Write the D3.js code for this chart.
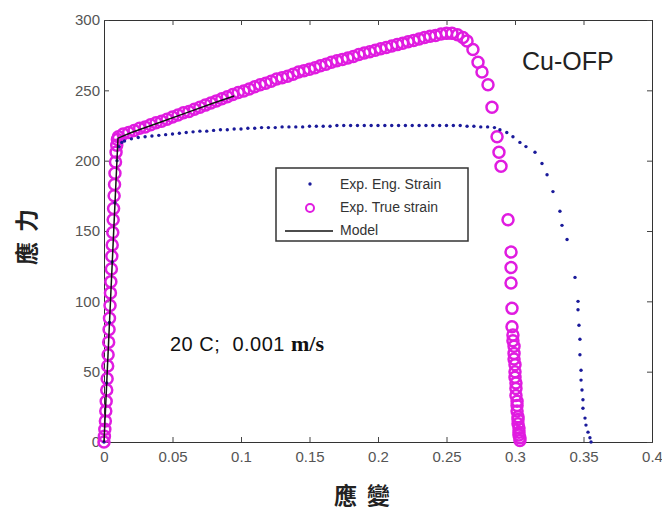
<!DOCTYPE html>
<html>
<head>
<meta charset="utf-8">
<script src="https://cdn.jsdelivr.net/npm/d3@7"></script>
<style>
  body { margin: 0; background: #fff; }
  svg { display: block; }
</style>
</head>
<body>
<svg id="chart"></svg>
<script>
// engineering strain curve (blue dots)
const engStrain = [0, 0.002, 0.004, 0.006, 0.008, 0.0095, 0.011, 0.013,
  0.015, 0.02, 0.025, 0.03, 0.035, 0.04, 0.045, 0.05, 0.055, 0.06, 0.065, 0.07,
  0.075, 0.08, 0.085, 0.09, 0.095, 0.1, 0.105, 0.11, 0.115, 0.12, 0.125, 0.13,
  0.135, 0.14, 0.145, 0.15, 0.155, 0.16, 0.165, 0.17, 0.175, 0.18, 0.185, 0.19,
  0.195, 0.2, 0.205, 0.21, 0.215, 0.22, 0.225, 0.23, 0.235, 0.24, 0.245, 0.25,
  0.255, 0.26, 0.265, 0.27, 0.275, 0.28, 0.285, 0.289, 0.294, 0.2985, 0.3036,
  0.308, 0.3146, 0.3197, 0.3234, 0.3277, 0.3328, 0.3343, 0.338, 0.3438, 0.346,
  0.346, 0.3467, 0.3474, 0.3474, 0.3482, 0.3482, 0.3489, 0.3496, 0.3496,
  0.3511, 0.3518, 0.3533, 0.3547, 0.3555];
const engStress = [0, 42, 85, 128, 170, 200, 210, 213,
  214, 215.5, 216.5, 217, 217.5, 218, 218.5, 219, 219.5, 220, 220.5, 221,
  221, 221.5, 222, 222, 222.5, 222.5, 223, 223, 223.5, 223.5, 223.5, 224,
  224, 224, 224, 224.5, 224.5, 224.5, 224.5, 225, 225, 225, 225, 225,
  225, 225, 225, 225, 225, 225, 225, 225, 225, 225, 225, 225,
  225, 225, 224.5, 224.5, 224, 224, 223.5, 222, 220, 217, 213,
  210, 206, 198, 190, 178, 164, 154, 144, 117, 100,
  94, 83, 73, 62, 51, 44, 37, 30, 24,
  17, 12, 7, 3, 0];

// true strain curve (open circles)
const trueStrain = [0, 0.0003, 0.0006, 0.001, 0.0013, 0.0016, 0.002, 0.0023,
  0.0027, 0.003, 0.0034, 0.0037, 0.004, 0.0044, 0.0047, 0.005, 0.0054, 0.0057,
  0.006, 0.0064, 0.0067, 0.007, 0.0074, 0.0077, 0.008, 0.0084, 0.0088, 0.0093,
  0.0098, 0.0105, 0.014, 0.018, 0.022, 0.026, 0.03, 0.034, 0.038, 0.042, 0.046,
  0.05, 0.054, 0.058, 0.062, 0.066, 0.07, 0.074, 0.078, 0.082, 0.086, 0.09,
  0.094, 0.098, 0.102, 0.106, 0.11, 0.114, 0.118, 0.122, 0.126, 0.13, 0.134,
  0.138, 0.142, 0.146, 0.15, 0.154, 0.158, 0.162, 0.166, 0.17, 0.174, 0.178,
  0.182, 0.186, 0.19, 0.194, 0.198, 0.202, 0.206, 0.21, 0.214, 0.218, 0.222,
  0.226, 0.23, 0.234, 0.238, 0.242, 0.246, 0.25, 0.254, 0.258, 0.262, 0.265,
  0.2693, 0.273, 0.2759, 0.2803, 0.2832, 0.2869, 0.2883, 0.2898, 0.2949,
  0.2971, 0.2971, 0.2971, 0.2978, 0.2978, 0.2985, 0.2985, 0.2993, 0.2993,
  0.2993, 0.3, 0.3, 0.3, 0.3007, 0.3007, 0.3007, 0.3015, 0.3015, 0.3015,
  0.3022, 0.3022, 0.3022, 0.3029, 0.3029, 0.3029, 0.3036, 0.3036];
const trueStress = [0, 4, 9, 15, 22, 29, 37, 45,
  54, 62, 71, 80, 88, 97, 106, 114, 123, 132,
  140, 149, 158, 166, 175, 183, 191, 199, 206, 211,
  215, 217, 219, 220, 221.5, 223, 224, 225.5, 227, 228, 229.5,
  231, 232.5, 234, 235, 236.5, 238, 239.5, 241, 242.5, 244, 245.5,
  247, 248.5, 249.5, 251, 252.5, 254, 255, 256.5, 258, 259, 260,
  261.5, 263, 264, 265, 266, 267.5, 268.5, 270, 271, 272, 273,
  274, 275.5, 276.5, 277.5, 278.5, 279.5, 280.5, 281.5, 282.5, 283.5, 284.5,
  285.5, 286.5, 287.5, 288.5, 289, 290, 290.5, 290.5, 289.5, 287.5, 285,
  279, 270, 263, 254, 238, 217, 206, 196, 158,
  135, 124, 113, 95, 82, 76, 72, 68, 63,
  59, 55, 50, 46, 42, 38, 33, 29, 26,
  22, 18, 16, 13, 10, 7, 5, 3, 1];

// model curve
const modelStrain = [0, 0.0102, 0.02, 0.04, 0.06, 0.08, 0.095];
const modelStress = [0, 216, 220, 227, 234, 241, 246];

const xTicks = [0, 0.05, 0.1, 0.15, 0.2, 0.25, 0.3, 0.35, 0.4];
const yTicks = [0, 50, 100, 150, 200, 250, 300];
const legendLabels = ["Exp. Eng. Strain", "Exp. True strain", "Model"];

const width = 662;
const height = 511;
const margin = { top: 20, right: 10, bottom: 69, left: 104 };
const magenta = "#e01ce0";
const blue = "#1a1a9a";

const svg = d3.select("#chart").attr("width", width).attr("height", height);

const x = d3.scaleLinear().domain([0, 0.4]).range([margin.left, width - margin.right]);
const y = d3.scaleLinear().domain([0, 300]).range([height - margin.bottom, margin.top]);

// axes, MATLAB style ticks pointing inward on all four sides
const fmt = d3.format("~g");
const tickFont = (g) => g.selectAll("text")
  .attr("font-family", "Liberation Sans, Arial, sans-serif")
  .attr("font-size", 15)
  .attr("fill", "#555");

svg.append("g")
  .attr("transform", `translate(0,${y(0)})`)
  .call(d3.axisBottom(x).tickValues(xTicks).tickFormat(fmt).tickSize(-5).tickPadding(9))
  .call(tickFont);
svg.append("g")
  .attr("transform", `translate(0,${y(300)})`)
  .call(d3.axisTop(x).tickValues(xTicks).tickFormat("").tickSize(-5));
svg.append("g")
  .attr("transform", `translate(${x(0)},0)`)
  .call(d3.axisLeft(y).tickValues(yTicks).tickFormat(fmt).tickSize(-5).tickPadding(4))
  .call(tickFont);
svg.append("g")
  .attr("transform", `translate(${x(0.4)},0)`)
  .call(d3.axisRight(y).tickValues(yTicks).tickFormat("").tickSize(-5));
svg.selectAll(".domain").attr("stroke", "#333");
svg.selectAll(".tick line").attr("stroke", "#444");

// true strain circles
svg.append("g")
  .selectAll("circle")
  .data(d3.zip(trueStrain, trueStress))
  .join("circle")
  .attr("cx", (d) => x(d[0]))
  .attr("cy", (d) => y(d[1]))
  .attr("r", 5.5)
  .attr("fill", "none")
  .attr("stroke", magenta)
  .attr("stroke-width", 2.5);

// engineering strain dots
svg.append("g")
  .selectAll("circle")
  .data(d3.zip(engStrain, engStress))
  .join("circle")
  .attr("cx", (d) => x(d[0]))
  .attr("cy", (d) => y(d[1]))
  .attr("r", 1.7)
  .attr("fill", blue);

// model line
svg.append("path")
  .datum(d3.zip(modelStrain, modelStress))
  .attr("fill", "none")
  .attr("stroke", "#111")
  .attr("stroke-width", 1.5)
  .attr("d", d3.line().x((d) => x(d[0])).y((d) => y(d[1])));

// legend
const legend = svg.append("g");
legend.append("rect")
  .attr("x", 276).attr("y", 168)
  .attr("width", 192).attr("height", 73)
  .attr("fill", "#fff")
  .attr("stroke", "#333")
  .attr("stroke-width", 1.5);
legend.append("circle").attr("cx", 310).attr("cy", 184).attr("r", 1.7).attr("fill", blue);
legend.append("circle").attr("cx", 310).attr("cy", 208).attr("r", 4)
  .attr("fill", "none").attr("stroke", magenta).attr("stroke-width", 2);
legend.append("line").attr("x1", 285).attr("x2", 333).attr("y1", 231).attr("y2", 231)
  .attr("stroke", "#111").attr("stroke-width", 1.5);
legend.selectAll("text")
  .data(legendLabels)
  .join("text")
  .attr("x", 340)
  .attr("y", (d, i) => 189 + i * 23)
  .attr("font-family", "Liberation Sans, Arial, sans-serif")
  .attr("font-size", 14)
  .attr("fill", "#333")
  .text((d) => d);

// annotations
svg.append("text")
  .attr("x", 522).attr("y", 70)
  .attr("font-family", "Liberation Sans, Arial, sans-serif")
  .attr("font-size", 25)
  .attr("fill", "#222")
  .text("Cu-OFP");

const cond = svg.append("text")
  .attr("x", 170).attr("y", 351)
  .attr("font-family", "Liberation Sans, Arial, sans-serif")
  .attr("font-size", 20)
  .attr("fill", "#111")
  .attr("xml:space", "preserve");
cond.append("tspan").attr("letter-spacing", 0.5).text("20 C;  0.001 ");
cond.append("tspan")
  .attr("font-family", "Liberation Serif, Times New Roman, serif")
  .attr("font-weight", "bold")
  .attr("font-size", 22)
  .text("m/s");

// axis titles
svg.append("text")
  .attr("x", 367).attr("y", 504)
  .attr("text-anchor", "middle")
  .attr("font-family", "Noto Sans CJK TC, sans-serif")
  .attr("font-weight", 700)
  .attr("font-size", 23)
  .attr("letter-spacing", 10)
  .attr("fill", "#222")
  .text("應變");

svg.append("text")
  .attr("transform", "translate(35,232) rotate(-90)")
  .attr("text-anchor", "middle")
  .attr("font-family", "Noto Sans CJK TC, sans-serif")
  .attr("font-weight", 700)
  .attr("font-size", 23)
  .attr("letter-spacing", 10)
  .attr("fill", "#222")
  .text("應力");
</script>
</body>
</html>
